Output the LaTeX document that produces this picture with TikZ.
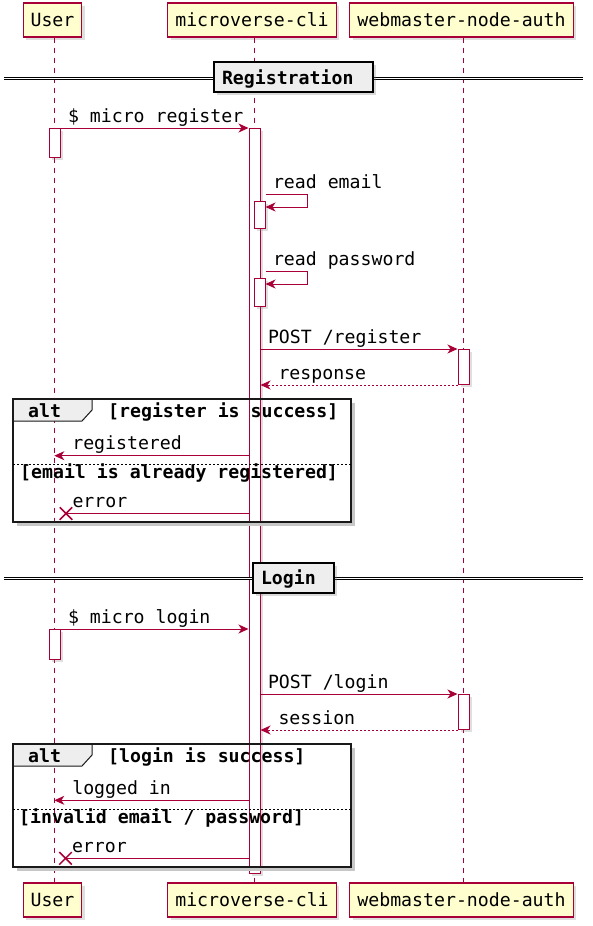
\documentclass[tikz,border=0pt]{standalone}
\usepackage{fontspec}
\setmonofont{DejaVu Sans Mono}
\usetikzlibrary{arrows.meta,shadows,shapes.misc}

\definecolor{umlred}{HTML}{A80036}
\definecolor{umlyellow}{HTML}{FEFECE}
\definecolor{umlgrey}{HTML}{EEEEEE}

\tikzset{
	participant/.style={draw=umlred, fill=umlyellow, line width=1.1pt, inner xsep=7.5pt, inner ysep=0pt, minimum height=34pt,
		drop shadow={shadow xshift=3pt, shadow yshift=-3pt, opacity=0.25}},
	lifeline/.style={draw=umlred, line width=0.8pt, dash pattern=on 5pt off 5pt},
	activation/.style={draw=umlred, fill=white, line width=1pt, minimum width=11pt, inner sep=0pt, anchor=north,
		drop shadow={shadow xshift=2.5pt, shadow yshift=-2.5pt, opacity=0.25}},
	msg/.style={draw=umlred, line width=1pt, -{Stealth[length=10pt,width=9pt,inset=3pt]}},
	reply/.style={msg, dash pattern=on 2pt off 2pt},
	lbl/.style={anchor=base west, inner sep=0pt, xshift=7pt, yshift=6pt},
	lblback/.style={anchor=base west, inner sep=0pt, xshift=17.5pt, yshift=6pt},
	divider/.style={draw=black, fill=umlgrey, line width=2pt, anchor=west, align=left, inner xsep=8pt, inner ysep=0pt,
		minimum height=30pt, text depth=0pt, font=\ttfamily\bfseries\fontsize{18.2}{22}\selectfont,
		drop shadow={shadow xshift=3pt, shadow yshift=-3pt, opacity=0.3}},
	divline/.style={draw=black, double=white, double distance=1.7pt, line width=1pt},
	frame/.style={draw=black!90, line width=2pt},
	frametab/.style={draw=black!90, fill=umlgrey, line width=1pt},
	frameshadow/.style={draw=black!22, line width=3pt},
	guard/.style={anchor=base west, inner sep=0pt, font=\ttfamily\bfseries\fontsize{18.2}{22}\selectfont},
	elsesep/.style={draw=black, line width=0.7pt, dash pattern=on 2pt off 2pt},
	killed/.style={cross out, draw=umlred, line width=1.5pt, minimum size=11pt, inner sep=0pt},
}

\begin{document}
\begin{tikzpicture}[x=1pt, y=-1pt, every node/.style={font=\ttfamily\fontsize{18.2}{22}\selectfont}]
	\useasboundingbox (0,0) rectangle (593,926);

	% participants, top and bottom
	\node[participant] (user) at (52.5,20) {User};
	\node[participant] (cli) at (252,20) {microverse-cli};
	\node[participant] (auth) at (461.5,20) {webmaster-node-auth};
	\node[participant] (userB) at (52.5,900) {User};
	\node[participant] (cliB) at (252,900) {microverse-cli};
	\node[participant] (authB) at (461.5,900) {webmaster-node-auth};

	\draw[lifeline] ([xshift=1.5pt]user.south) -- ([xshift=1.5pt]userB.north);
	\draw[lifeline] ([xshift=2.5pt]cli.south) -- ([xshift=2.5pt]cliB.north);
	\draw[lifeline] ([xshift=1.5pt]auth.south) -- ([xshift=1.5pt]authB.north);

	% activations
	\node[activation, minimum height=745pt] (cliact) at (254.5,128) {};
	\node[activation, minimum height=29pt] (uact1) at (54.5,128) {};
	\node[activation, minimum height=27pt] (cliact2) at (259.5,201) {};
	\node[activation, minimum height=28pt] (cliact3) at (259.5,278) {};
	\node[activation, minimum height=35pt] (webact1) at (463.5,349) {};
	\node[activation, minimum height=30pt] (uact2) at (54.5,629) {};
	\node[activation, minimum height=35pt] (webact2) at (463.5,694) {};

	% alt frame: registration
	\draw[frameshadow] (17,524.5) -- (353,524.5) -- (353,403);
	\draw[frametab] (13,399) -- ++(79,0) -- ++(0,11) -- ++(-10,11) -- ++(-69,0) -- cycle;
	\draw[frame] (13,399) rectangle (350.5,522);
	\draw[elsesep] (13,464) -- (350.5,464);
	\node[guard] (alt1) at (28,417) {alt};
	\node[guard] (alt1g1) at (108,417) {[register is success]};
	\node[guard] (alt1g2) at (20,478) {[email is already registered]};

	% alt frame: login
	\draw[frameshadow] (17,869.2) -- (353,869.2) -- (353,748);
	\draw[frametab] (13,744) -- ++(79,0) -- ++(0,11) -- ++(-10,11) -- ++(-69,0) -- cycle;
	\draw[frame] (13,744) rectangle (350.5,866.7);
	\draw[elsesep] (13,809) -- (350.5,809);
	\node[guard] (alt2) at (28,762) {alt};
	\node[guard] (alt2g1) at (108,762) {[login is success]};
	\node[guard] (alt2g2) at (19,823) {[invalid email / password]};

	% sections
	\draw[divline] (4,78.5) -- (583,78.5);
	\node[divider, text width=143pt] (regsec) at (213,77) {Registration};
	\draw[divline] (4,578.5) -- (583,578.5);
	\node[divider, text width=65pt] (logsec) at (252,577.5) {Login};

	% registration messages
	\draw[msg] (uact1.north east) node[lbl]{\$ micro register} -- (uact1.north east -| cliact.west);
	\draw[msg] ([yshift=7pt]cliact2.north east) node[lbl]{read email} -- ++(41.5,0) |- ([yshift=-6pt]cliact2.north east);
	\draw[msg] ([yshift=7pt]cliact3.north east) node[lbl]{read password} -- ++(41.5,0) |- ([yshift=-6pt]cliact3.north east);
	\draw[msg] (webact1.north west -| cliact.east) node[lbl]{POST /register} -- (webact1.north west);
	\draw[reply] (webact1.south west) -- (webact1.south west -| cliact.east) node[lblback]{response};

	\coordinate (reg1) at (54.3,455.7);
	\coordinate (err1) at (66,513.5);
	\draw[msg] (reg1 -| cliact.west) -- (reg1) node[lblback]{registered};
	\draw[msg, -] (err1 -| cliact.west) -- (err1) node[lbl, xshift=-1pt]{error};
	\node[killed] (x1) at (err1) {};

	% login messages
	\draw[msg] (uact2.north east) node[lbl]{\$ micro login} -- (uact2.north east -| cliact.west);
	\draw[msg] (webact2.north west -| cliact.east) node[lbl]{POST /login} -- (webact2.north west);
	\draw[reply] (webact2.south west) -- (webact2.south west -| cliact.east) node[lblback]{session};

	\coordinate (log1) at (54.3,800.3);
	\coordinate (err2) at (65.5,858.3);
	\draw[msg] (log1 -| cliact.west) -- (log1) node[lblback]{logged in};
	\draw[msg, -] (err2 -| cliact.west) -- (err2) node[lbl, xshift=-1pt]{error};
	\node[killed] (x2) at (err2) {};
\end{tikzpicture}
\end{document}
